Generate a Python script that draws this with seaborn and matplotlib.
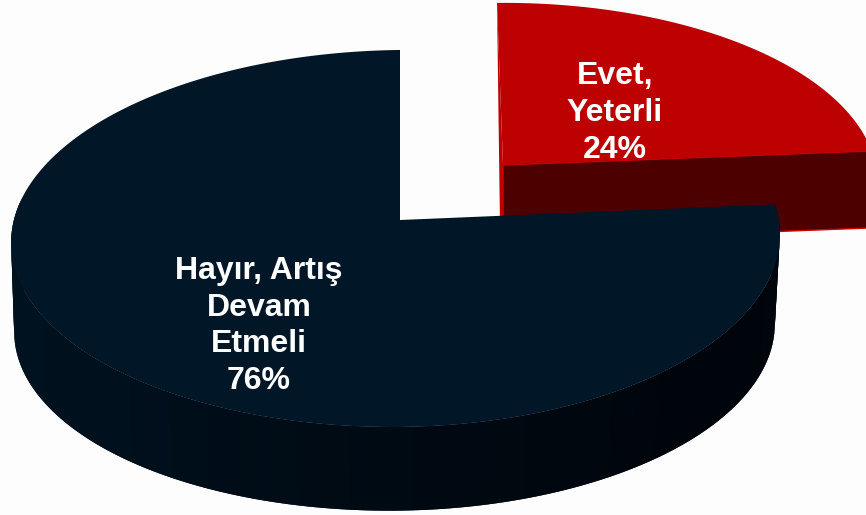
"""
plot.py
Exploded 3D style pie, drawn slice by slice from the survey shares.
"""

import numpy as np
import matplotlib.pyplot as plt
import seaborn as sns

categories = ["Evet,\nYeterli", "Hayır, Artış\nDevam\nEtmeli"]
values = [24, 76]

sns.set_theme(style="white")
plt.rcParams["font.family"] = ["Liberation Sans", "DejaVu Sans"]

BG = "#fdfdfd"
RED_TOP = "#bd0000"
RED_SIDE = "#4c0000"
RED_EDGE = "#d00000"
NAVY_TOP = "#011626"
PERSP = 0.098

W, H = 866, 515
fig = plt.figure(figsize=(W / 100, H / 100), dpi=100, facecolor=BG)
ax = fig.add_axes([0, 0, 1, 1])
ax.set_xlim(0, W)
ax.set_ylim(H, 0)
ax.axis("off")


def rim(theta, x0, y0, rx_left, rx_right, ry, shear=0.0, tilt=0.0):
    """Points of a tilted circle, theta in degrees, seen with some perspective."""
    t = np.radians(theta)
    u, v = np.cos(t), np.sin(t)
    rx = np.where(u < 0, rx_left, rx_right)
    x = x0 + rx * u / (1 + PERSP * v) - shear * v
    y = y0 - ry * v / (1 + PERSP * v) - tilt * u
    return x, y


sweep = [v / sum(values) * 360 for v in values]
red_end = 90 - sweep[0]

# red slice, pulled out to the upper right
red_angles = np.linspace(red_end, 90, 120)
rx_r, ry_r = rim(red_angles, 503, 165, 372, 372, 178, shear=6, tilt=3)
depth_r = 77
ax.fill(
    [rx_r[-1], 503, 503, rx_r[-1] + 3],
    [ry_r[-1], 165, 225, 225],
    color=RED_TOP,
    lw=0,
    zorder=1,
)
ax.fill(
    [503, rx_r[0], rx_r[0], 503],
    [165, ry_r[0], ry_r[0] + depth_r, 165 + depth_r],
    facecolor=RED_SIDE,
    edgecolor=RED_EDGE,
    lw=1,
    zorder=2,
)
ax.fill(
    np.r_[503, rx_r],
    np.r_[165, ry_r],
    color=RED_TOP,
    lw=0,
    zorder=3,
)

# navy slice, side wall first with a soft shade from left to right
navy_angles = np.linspace(90, 90 + sweep[1], 400)
wall = np.linspace(172, 360 + red_end, 160)
shades = sns.blend_palette(["#011320", "#00111e", "#000a13", "#00050b", "#00060c"], len(wall) - 2)
x_top, y_top = rim(wall, 400, 220, 387, 378, 186.7, tilt=4)
x_bot, y_bot = rim(wall, 397, 310, 381, 376, 181, tilt=4)
for i, shade in enumerate(shades):
    # each band overlaps the next so no seams show
    ax.fill(
        [x_top[i], x_top[i + 2], x_bot[i + 2], x_bot[i]],
        [y_top[i], y_top[i + 2], y_bot[i + 2], y_bot[i]],
        color=shade,
        lw=0,
        zorder=4,
    )
nx, ny = rim(navy_angles, 400, 220, 387, 378, 186.7, tilt=4)
ax.fill(np.r_[400, nx], np.r_[220, ny], color=NAVY_TOP, lw=0, zorder=5)

# labels
for name, val, x, y in zip(categories, values, [615, 259], [113, 326]):
    ax.text(
        x,
        y,
        f"{name}\n{val}%",
        color="white",
        fontsize=23,
        fontweight="bold",
        ha="center",
        va="center",
        linespacing=1.29,
        zorder=6,
    )

fig.savefig("out.png", dpi=100, facecolor=BG)
